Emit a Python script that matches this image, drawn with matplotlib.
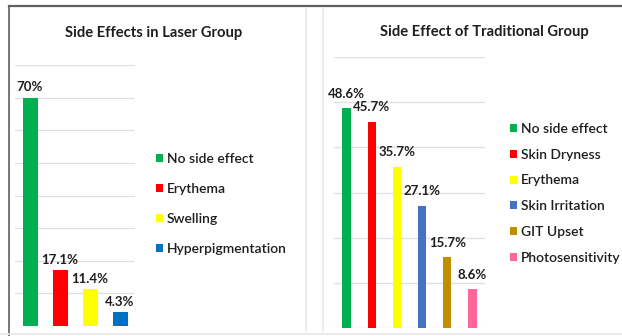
import matplotlib
matplotlib.use("Agg")
import matplotlib.pyplot as plt
from matplotlib.lines import Line2D

plt.rcParams['font.family'] = ['Lato', 'DejaVu Sans']

# Laser group
laser_categories = ["No side effect", "Erythema", "Swelling", "Hyperpigmentation"]
laser_values = [70, 17.1, 11.4, 4.3]
laser_colors = ["#00B050", "#FF0000", "#FFFF00", "#0070C0"]

# Traditional group
trad_categories = ["No side effect", "Skin Dryness", "Erythema", "Skin Irritation",
                   "GIT Upset", "Photosensitivity"]
trad_values = [48.6, 45.7, 35.7, 27.1, 15.7, 8.6]
trad_colors = ["#00B050", "#FF0000", "#FFFF00", "#4472C4", "#BF8F00", "#FF6699"]

W, H = 622, 336
fig = plt.figure(figsize=(W / 100, H / 100), dpi=100)
fig.patch.set_facecolor("white")

TXT = "#1e1e1e"


def px_axes(x0, x1, ytop, ybase):
    return fig.add_axes([x0 / W, (H - ybase) / H, (x1 - x0) / W, (ybase - ytop) / H])


def style(ax, ymax, xn):
    ax.set_ylim(0, ymax)
    ax.set_xlim(-0.5, xn - 0.5)
    ax.set_yticks(range(0, ymax + 1, 10))
    ax.yaxis.grid(True, color="#dcdfe3", linewidth=0.9)
    ax.set_axisbelow(True)
    ax.tick_params(left=False, bottom=False, labelleft=False, labelbottom=False)
    for s in ax.spines.values():
        s.set_visible(False)


legend_font = {"size": 10, "weight": "semibold"}

# Left panel
ax1 = px_axes(15, 135, 65, 326)
style(ax1, 80, len(laser_values))
b1 = ax1.bar(range(len(laser_values)), laser_values, width=0.5, color=laser_colors)
ax1.bar_label(b1, labels=[f"{v:g}%" for v in laser_values], padding=3,
              fontsize=9.5, fontweight="bold", color=TXT)
fig.text(154 / W, 1 - 33 / H, "Side Effects in Laser Group", ha="center", va="center",
         fontsize=10.6, fontweight="bold", color=TXT)
fig.legend(b1.patches, laser_categories, loc="upper left",
           bbox_to_anchor=(156 / W, 1 - 153 / H), frameon=False, prop=legend_font,
           handlelength=0.5, handleheight=0.5, handletextpad=0.3,
           labelspacing=1.30, borderpad=0, borderaxespad=0, labelcolor=TXT)

# Right panel
ax2 = px_axes(334, 485, 57, 328)
style(ax2, 60, len(trad_values))
b2 = ax2.bar(range(len(trad_values)), trad_values, width=0.33, color=trad_colors)
ax2.bar_label(b2, labels=[f"{v:g}%" for v in trad_values], padding=6,
              fontsize=9.5, fontweight="bold", color=TXT)
fig.text(484 / W, 1 - 32 / H, "Side Effect of Traditional Group", ha="center",
         va="center", fontsize=10.6, fontweight="bold", color=TXT)
fig.legend(b2.patches, trad_categories, loc="upper left",
           bbox_to_anchor=(510 / W, 1 - 123 / H), frameon=False, prop=legend_font,
           handlelength=0.5, handleheight=0.5, handletextpad=0.3,
           labelspacing=0.99, borderpad=0, borderaxespad=0, labelcolor=TXT)

# Panel frames
def fline(xs, ys, color, lw):
    fig.add_artist(Line2D([x / W for x in xs], [1 - y / H for y in ys],
                          color=color, linewidth=lw, transform=fig.transFigure))


fline([9, W], [6, 6], "#606060", 1.6)
fline([9, 9], [6, H], "#606060", 1.2)
fline([306, 306], [9, 331], "#e6e9ee", 1.2)
fline([323, 323], [9, 331], "#e6e9ee", 1.2)
fline([0, W], [334, 334], "#e6e6e6", 1.2)

fig.savefig("out.png", dpi=100)
